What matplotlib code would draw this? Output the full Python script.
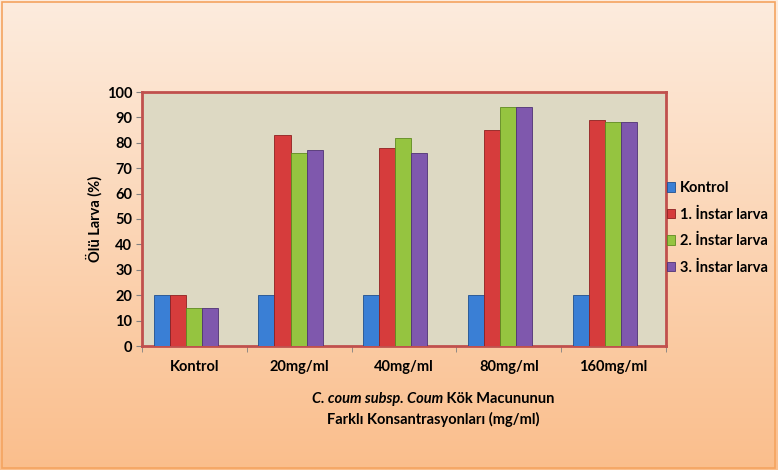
import matplotlib
matplotlib.use("Agg")
import matplotlib.pyplot as plt
import numpy as np

categories = ["Kontrol", "20mg/ml", "40mg/ml", "80mg/ml", "160mg/ml"]
series_names = ["Kontrol", "1. İnstar larva", "2. İnstar larva", "3. İnstar larva"]
kontrol = [20, 20, 20, 20, 20]
instar1 = [20, 83, 78, 85, 89]
instar2 = [15, 76, 82, 94, 88]
instar3 = [15, 77, 76, 94, 88]
yticks = [0, 10, 20, 30, 40, 50, 60, 70, 80, 90, 100]

colors = ["#3a7fd5", "#d63c3c", "#95c440", "#7f58ad"]
edges = ["#1f4f8f", "#8f2020", "#5f8a20", "#4f3275"]

plt.rcParams['font.family'] = ['Lato', 'DejaVu Sans']

W, H = 778, 470
fig = plt.figure(figsize=(W/100, H/100), dpi=100)

# background gradient
bg = fig.add_axes([0, 0, 1, 1], zorder=-10)
top = np.array([253, 236, 222]) / 255
bot = np.array([250, 190, 140]) / 255
t = np.linspace(0, 1, 256)[:, None]
grad = top[None, :] * (1 - t) + bot[None, :] * t
bg.imshow(grad[:, None, :].repeat(2, axis=1), aspect='auto', extent=[0, 1, 0, 1])
bg.add_patch(plt.Rectangle((0.002, 0.004), 0.994, 0.992, fill=False,
                           edgecolor="#f4a460", lw=1.2, transform=bg.transAxes))
bg.set_axis_off()

ax = fig.add_axes([142/W, 1 - 346/H, (666-142)/W, (346-92)/H])
ax.set_facecolor("#ddd9c3")

x = np.arange(len(categories))
bw = 0.153
shift = -0.083
data = [kontrol, instar1, instar2, instar3]
for i, (vals, name) in enumerate(zip(data, series_names)):
    ax.bar(x + shift + (i - 1.5) * bw, vals, width=bw, color=colors[i],
           edgecolor=edges[i], linewidth=0.6, label=name, zorder=3)

ax.set_xlim(-0.5, len(categories) - 0.5)
ax.set_ylim(0, 100)
ax.set_yticks(yticks)
ax.set_yticklabels([str(v) for v in yticks], fontsize=10.5, fontweight='bold')
ax.set_xticks(x)
ax.set_xticklabels(categories, fontsize=10.5, fontweight='bold')
ax.tick_params(axis='x', length=0, pad=10)
ax.set_xticks(np.arange(-0.5, len(categories)), minor=True)
ax.tick_params(axis='x', which='minor', length=4, color="#808080", direction='out')
ax.tick_params(axis='y', length=4, color="#808080", direction='out', pad=3)

for s in ax.spines.values():
    s.set_edgecolor("#c0504d")
    s.set_linewidth(2)

ax.set_ylabel("Ölü Larva (%)", fontsize=10.5, fontweight='bold', labelpad=3)

leg = ax.legend(loc='center left', bbox_to_anchor=(0.99, 0.465), frameon=False,
                handlelength=0.6, handleheight=0.6,
                handletextpad=0.3, labelspacing=0.85, borderaxespad=0.0,
                prop={'weight': 'bold', 'size': 10.5})

# x-axis title
fig.canvas.draw()
r = fig.canvas.get_renderer()
cx = 433 / W
y1 = 1 - 399 / H
y2 = 1 - 419 / H
t1 = fig.text(0, y1, "C. coum subsp. Coum", fontsize=10.5, fontweight='bold',
              fontstyle='italic', va='center', ha='left')
t2 = fig.text(0, y1, " Kök Macununun", fontsize=10.5, fontweight='bold',
              va='center', ha='left')
w1 = t1.get_window_extent(r).width / W
w2 = t2.get_window_extent(r).width / W
start = cx - (w1 + w2) / 2
t1.set_x(start)
t2.set_x(start + w1)
fig.text(cx, y2, "Farklı Konsantrasyonları (mg/ml)", fontsize=10.5,
         fontweight='bold', va='center', ha='center')

fig.savefig("out.png", dpi=100)
